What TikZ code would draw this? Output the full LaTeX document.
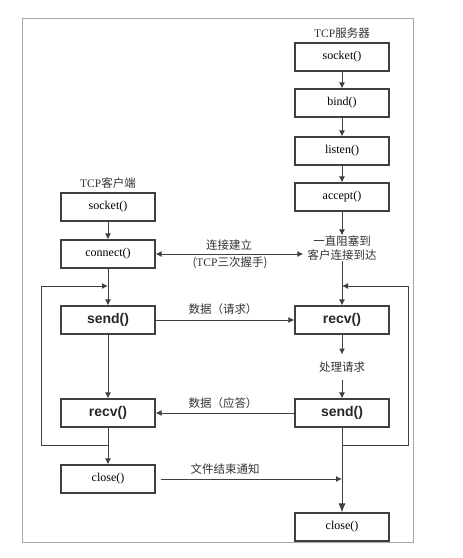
\documentclass[tikz,border=0pt]{standalone}
\usepackage{fontspec}
\setmainfont{Liberation Serif}
\setsansfont{Liberation Sans}
\newfontfamily\cjk{Noto Sans CJK SC}
\usetikzlibrary{arrows.meta}
\begin{document}
\begin{tikzpicture}[x=1pt,y=-1pt]
\tikzstyle{every node}+=[inner sep=0pt]
\tikzstyle{fn}=[draw=black!75,line width=1.1pt,minimum width=94pt,minimum height=28pt,font=\fontsize{12}{14}\selectfont]
\tikzstyle{io}=[fn,font=\sffamily\bfseries\fontsize{14}{16}\selectfont,text=black!85]
\tikzstyle{lbl}=[font=\cjk\fontsize{11.5}{14}\selectfont,text=black!80]
\tikzstyle{flow}=[draw=black!75,line width=1pt,-{Latex[length=6pt,width=6pt]}]
\useasboundingbox (0,0) rectangle (463,558);
\draw [black!35,line width=0.8pt] (22,18) rectangle (413,542);
% server side
\node [lbl] (stitle) at (342,33) {{\rmfamily TCP}服务器};
\node [fn] (ssock) at (342,57) {socket()};
\node [fn] (sbind) at (342,103) {bind()};
\node [fn] (slisten) at (342,151) {listen()};
\node [fn] (saccept) at (342,197) {accept()};
\node [lbl,align=center] (swait) at (342,248) {一直阻塞到\\客户连接到达};
\node [io] (srecv) at (342,320) {recv()};
\node [lbl,inner sep=7pt] (sproc) at (342,367) {处理请求};
\node [io] (ssend) at (342,413) {send()};
\node [fn] (sclose) at (342,527) {close()};
\coordinate (sloopin) at (342,286);
\coordinate (sloopout) at (342,445);
\coordinate (sright) at (408,445);
\coordinate (cfin) at (342,479);
% client side
\node [lbl] (ctitle) at (108,183) {{\rmfamily TCP}客户端};
\node [fn] (csock) at (108,207) {socket()};
\node [fn] (cconn) at (108,254) {connect()};
\node [io] (csend) at (108,320) {send()};
\node [io] (crecv) at (108,413) {recv()};
\node [fn] (cclose) at (108,479) {close()};
\coordinate (cloopin) at (108,286);
\coordinate (cloopout) at (108,445);
\coordinate (cleft) at (41,445);
% messages
\node [lbl] (hs1) at (229,245) {连接建立};
\node [lbl] (hs2) at (230,263) {({\rmfamily TCP}三次握手)};
\node [lbl] (req) at (223,309) {数据（请求）};
\node [lbl] (resp) at (223,403) {数据（应答）};
\node [lbl] (fin) at (225,469) {文件结束通知};
\draw [flow] (ssock) -- (sbind);
\draw [flow] (sbind) -- (slisten);
\draw [flow] (slisten) -- (saccept);
\draw [flow] (saccept) -- (swait);
\draw [flow] (swait) -- (srecv);
\draw [flow] (srecv) -- (sproc);
\draw [flow] (sproc) -- (ssend);
\draw [flow,-{Latex[length=9pt,width=7pt]}] (ssend) -- (sclose);
\draw [flow] (sloopout) -- (sright) |- (sloopin);
\draw [flow] (csock) -- (cconn);
\draw [flow] (cconn) -- (csend);
\draw [flow] (csend) -- (crecv);
\draw [flow] (crecv) -- (cclose);
\draw [flow] (cloopout) -- (cleft) |- (cloopin);
\draw [flow,{Latex[length=6pt,width=6pt]}-{Latex[length=6pt,width=6pt]}] (cconn) -- ([xshift=-4pt]cconn -| swait.west);
\draw [flow] (csend) -- (srecv);
\draw [flow] (ssend) -- (crecv);
\draw [flow] ([xshift=5pt]cclose.east) -- (cfin);
\end{tikzpicture}
\end{document}
